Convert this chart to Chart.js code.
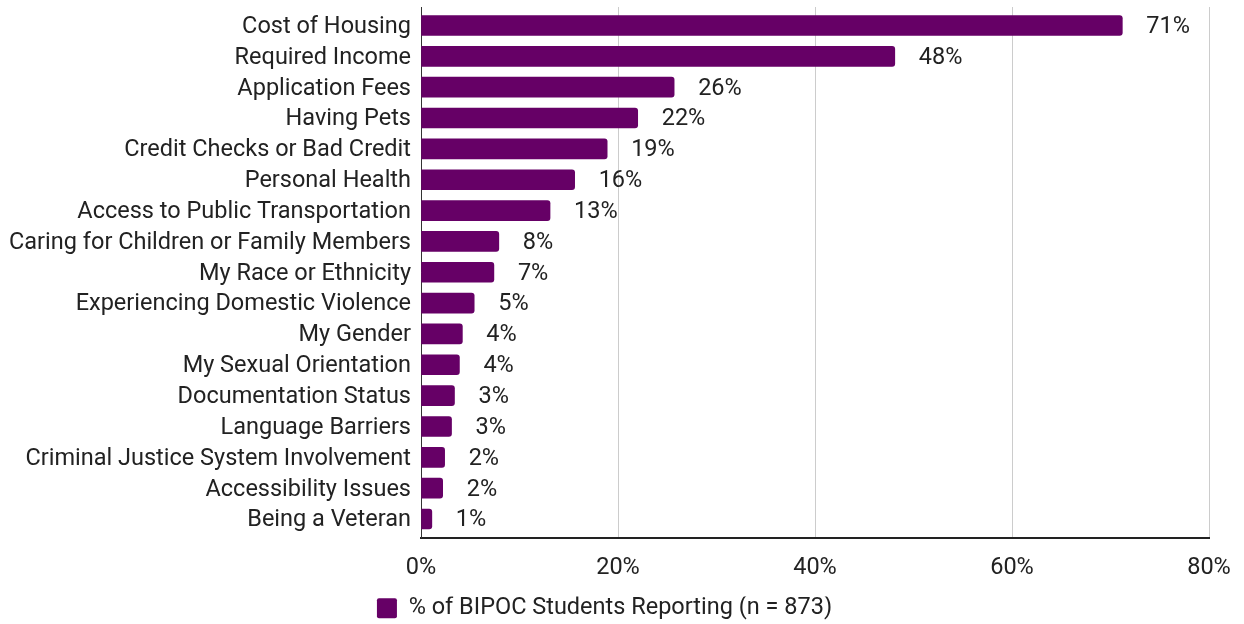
<!DOCTYPE html>
<html>
<head>
<meta charset="utf-8">
<script src="https://cdn.jsdelivr.net/npm/chart.js@4/dist/chart.umd.min.js"></script>
<style>
  html, body { margin: 0; padding: 0; background: #ffffff; }
  #wrap { width: 1244px; height: 624px; position: relative; }
</style>
</head>
<body>
<div id="wrap"><canvas id="chart"></canvas></div>
<script>
// Barriers to housing reported by BIPOC students (percent of respondents)
const categories = [
  "Cost of Housing",
  "Required Income",
  "Application Fees",
  "Having Pets",
  "Credit Checks or Bad Credit",
  "Personal Health",
  "Access to Public Transportation",
  "Caring for Children or Family Members",
  "My Race or Ethnicity",
  "Experiencing Domestic Violence",
  "My Gender",
  "My Sexual Orientation",
  "Documentation Status",
  "Language Barriers",
  "Criminal Justice System Involvement",
  "Accessibility Issues",
  "Being a Veteran"
];
const percentReporting = [71.2, 48.1, 25.7, 22.0, 18.9, 15.6, 13.1, 7.9, 7.4, 5.4, 4.2, 3.9, 3.4, 3.1, 2.4, 2.2, 1.1];
const xTicks = [0, 20, 40, 60, 80];
const seriesName = "% of BIPOC Students Reporting (n = 873)";

const FONT = "Roboto, 'Noto Sans', sans-serif";
const FONT_SIZE = 23.5;
const TEXT = "#222222";
const BAR = "#660066";

// Bar end value labels
const valueLabels = {
  id: "valueLabels",
  afterDatasetsDraw(chart) {
    const ctx = chart.ctx;
    const meta = chart.getDatasetMeta(0);
    ctx.save();
    ctx.font = FONT_SIZE + "px " + FONT;
    ctx.fillStyle = TEXT;
    ctx.textAlign = "left";
    ctx.textBaseline = "middle";
    meta.data.forEach((bar, i) => {
      ctx.fillText(Math.round(percentReporting[i]) + "%", bar.x + 24, bar.y + 1.5);
    });
    ctx.restore();
  }
};

new Chart(document.getElementById("chart"), {
  type: "bar",
  data: {
    datasets: [{
      label: seriesName,
      data: percentReporting.map((v, i) => ({ x: v, y: i })),
      backgroundColor: BAR,
      borderWidth: 0,
      borderRadius: { topRight: 3, bottomRight: 3, topLeft: 0, bottomLeft: 0 },
      borderSkipped: "start",
      barThickness: 20
    }]
  },
  options: {
    indexAxis: "y",
    responsive: true,
    maintainAspectRatio: false,
    animation: false,
    layout: { padding: { top: 7, right: 35, left: 0, bottom: -6 } },
    scales: {
      x: {
        type: "linear",
        min: 0,
        max: 80,
        afterBuildTicks: s => { s.ticks = xTicks.map(v => ({ value: v })); },
        ticks: {
          callback: v => v + "%",
          font: { family: FONT, size: FONT_SIZE },
          color: TEXT,
          padding: 17,
          maxRotation: 0
        },
        grid: {
          color: "#cccccc",
          lineWidth: 1,
          drawTicks: false
        },
        border: { display: true, color: "#222222", width: 2 },
        afterFit: s => { s.height = 59; s.paddingLeft = 0; s.paddingRight = 0; }
      },
      y: {
        type: "linear",
        reverse: true,
        offset: false,
        min: -0.6,
        max: categories.length - 0.4,
        afterBuildTicks: s => { s.ticks = categories.map((_, i) => ({ value: i })); },
        ticks: {
          callback: v => categories[v],
          font: { family: FONT, size: FONT_SIZE },
          color: TEXT,
          padding: 10,
          labelOffset: 1.5,
          autoSkip: false
        },
        grid: { display: false, drawTicks: false, offset: false },
        border: { display: true, color: "#333333", width: 1 },
        afterFit: s => { s.width = 421; s.paddingTop = 0; s.paddingBottom = 0; }
      }
    },
    plugins: {
      legend: {
        position: "bottom",
        labels: {
          font: { family: FONT, size: FONT_SIZE },
          color: TEXT,
          boxWidth: 20,
          boxHeight: 20,
          padding: 0,
          useBorderRadius: true,
          borderRadius: 2
        }
      },
      tooltip: { enabled: false }
    }
  },
  plugins: [valueLabels]
});
</script>
</body>
</html>
